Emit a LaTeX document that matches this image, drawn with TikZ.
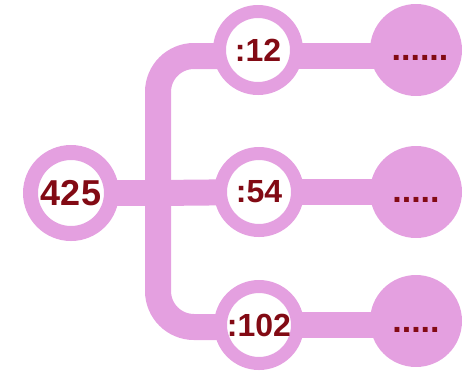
\documentclass[tikz,border=0pt]{standalone}
\usepackage{fontspec}
\setmainfont{Liberation Sans}
\usetikzlibrary{backgrounds}
\definecolor{pinkc}{RGB}{228,160,224}
\definecolor{txtred}{RGB}{130,10,20}
\tikzset{
  conn/.style={draw=pinkc, line width=26pt},
  ringnode/.style={circle, draw=pinkc, line width=13pt, fill=white, minimum size=77pt, inner sep=0pt,
    font=\bfseries\fontsize{32}{32}\selectfont, text=txtred},
  bigring/.style={ringnode, line width=15pt, minimum size=81pt, font=\bfseries\fontsize{36}{36}\selectfont},
  disc/.style={circle, fill=pinkc, minimum size=92pt, inner sep=0pt},
  dots/.style={anchor=base, inner sep=0pt, text=txtred, font=\bfseries\fontsize{34}{34}\selectfont}
}
\begin{document}
\begin{tikzpicture}[x=1pt,y=-1pt]
\useasboundingbox (0,0) rectangle (463,381);
% nodes
\node[disc] (r1) at (416,50) {};
\node[disc] (r2) at (416,192) {};
\node[disc] (r3) at (416,321) {};
\node[bigring] (n425) at (71,193) {425};
\node[ringnode] (c12) at (258,50) {:12};
\node[ringnode] (c54) at (259,192) {:54};
\node[ringnode] (c102) at (259,325) {:102};
% dots
\node[dots] (d1) at (420,60) {......};
\node[dots] (d2) at (416,202) {.....};
\node[dots] (d3) at (416,332) {.....};
% branch coordinates
\coordinate (bt) at (158,56);
\coordinate (bm) at (158,193);
\coordinate (bb) at (158,327);
% connectors behind the nodes
\begin{scope}[on background layer]
\draw[conn, rounded corners=36pt] (c12.center |- bt) -- (bt) -- (bb) -- (c102.center |- bb);
\draw[conn] (n425.center) -- (bm);
\draw[conn] (bm) -- (c54.center);
\draw[conn] (c12.center |- bt) -- (r1.center |- bt);
\draw[conn] (c54.center) -- (r2.center);
\draw[conn] (c102.center) -- (r3.center |- c102.center);
\end{scope}
\end{tikzpicture}
\end{document}
